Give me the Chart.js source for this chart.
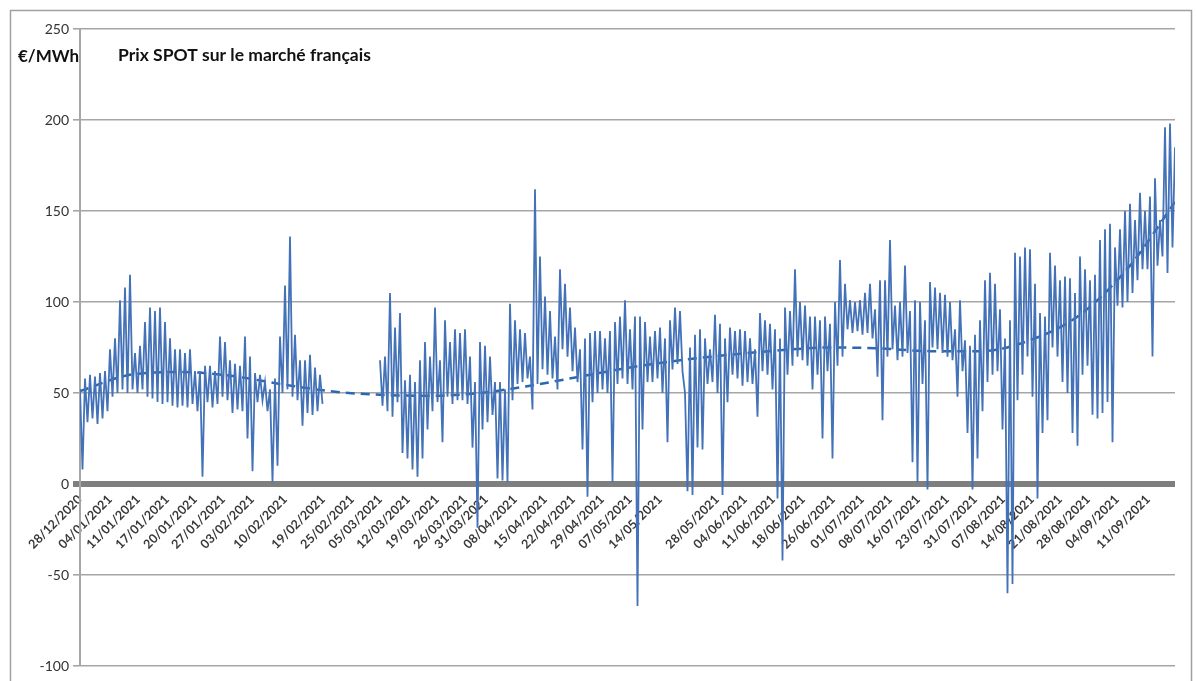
<!DOCTYPE html>
<html>
<head>
<meta charset="utf-8">
<script src="https://cdn.jsdelivr.net/npm/chart.js@4.4.1/dist/chart.umd.min.js"></script>
<style>
  body { margin: 0; background: #fff; }
  #wrap { position: relative; width: 1196px; height: 681px; }
</style>
</head>
<body>
<div id="wrap"><canvas id="spot"></canvas></div>
<script>
// Prix SPOT horaires: pour chaque pas, un haut et un bas
// null = pas de donnees (trou fin fevrier / debut mars)
var highs = [52,58,60,59,61,62,74,80,101,108,115,72,76,89,97,95,97,89,80,74,
  74,72,74,62,62,65,65,62,81,78,68,66,65,81,70,61,60,56,52,58,
  81,109,136,82,68,68,71,64,60,null,null,null,null,null,null,null,null,null,null,null,
  68,70,105,86,94,57,60,56,68,78,70,97,68,90,78,85,83,85,70,56,
  78,76,70,56,56,52,99,90,85,83,70,162,125,103,95,81,118,110,97,86,
  74,80,83,84,84,80,84,89,92,101,85,92,92,89,81,84,86,80,90,97,
  95,50,75,82,85,80,74,93,88,80,86,84,85,84,80,74,94,90,88,85,
  80,97,95,118,100,98,92,92,90,92,88,100,123,110,101,100,101,105,110,96,
  112,112,134,98,100,120,95,101,100,90,111,108,105,104,100,85,101,79,76,82,
  90,112,116,110,96,80,90,127,125,130,129,110,94,92,127,120,112,114,113,105,
  125,118,112,115,134,140,143,130,140,150,154,145,160,150,158,168,145,196,198,185];
var lows = [8,34,36,33,36,40,48,50,52,50,52,50,52,48,47,45,44,45,43,42,
  43,42,44,40,4,45,42,44,48,46,39,41,40,25,7,45,46,40,1,10,
  50,52,48,46,32,39,38,40,44,null,null,null,null,null,null,null,null,null,null,null,
  43,40,37,45,17,14,8,4,14,30,40,45,23,48,44,46,46,44,20,-24,
  30,34,38,3,2,1,46,55,56,58,41,55,63,60,58,52,74,70,62,56,
  19,-7,45,50,52,50,1,55,58,55,52,-67,30,56,56,58,50,23,63,66,
  62,-4,-6,20,19,55,56,50,-6,45,60,58,54,56,55,37,62,60,52,-8,
  -42,60,65,70,68,65,52,60,25,62,14,65,70,85,83,84,82,83,80,59,
  35,70,74,68,70,72,12,1,55,-3,75,74,72,70,68,48,62,28,-3,14,
  40,56,60,62,30,-60,-55,46,60,70,48,-8,28,35,75,70,56,50,28,21,
  60,65,38,36,39,45,23,98,97,100,105,112,118,118,70,120,125,116,130,141];

// courbe de tendance (pointillés), relevée tous les 10 pas
var trendSteps = [0,10,20,30,40,50,60,70,80,90,100,110,120,130,140,150,160,170,180,190,200,210,219];
var trendValues = [51,60,61.5,59.5,55,51,49,48.5,50,54,59,64,68,71,73.5,75,74.5,73,73,79,93,120,155];

// étiquettes de l'axe des dates et leur pas
var tickLabels = ["28/12/2020","04/01/2021","11/01/2021","17/01/2021","20/01/2021","27/01/2021",
  "03/02/2021","10/02/2021","19/02/2021","25/02/2021","05/03/2021","12/03/2021","19/03/2021",
  "26/03/2021","31/03/2021","08/04/2021","15/04/2021","22/04/2021","29/04/2021","07/05/2021",
  "14/05/2021","28/05/2021","04/06/2021","11/06/2021","18/06/2021","26/06/2021","01/07/2021",
  "08/07/2021","16/07/2021","23/07/2021","31/07/2021","07/08/2021","14/08/2021","21/08/2021",
  "28/08/2021","04/09/2021","11/09/2021"];
var tickSteps = [0,6,11.6,17.4,23,28.6,34.4,41,48.6,54.4,60,65.6,71.4,77,81.2,87,93,98.6,104.4,110,
  116,127.4,133,138.6,144.6,150.6,156.4,162,167.6,173.4,179,184.6,190.4,196,201.6,207.4,213.6];

// deux échantillons par pas : haut puis bas
var prices = [];
highs.forEach(function (h, i) {
  prices.push({ x: 2 * i, y: h });
  prices.push({ x: 2 * i + 1, y: lows[i] });
});
var trend = trendSteps.map(function (s, k) {
  return { x: 2 * s, y: trendValues[k] };
});

var FONT = "Lato, 'Open Sans', sans-serif";

var decor = {
  id: "decor",
  beforeDraw: function (chart) {
    var c = chart.ctx;
    c.save();
    c.strokeStyle = "#a0a0a0";
    c.lineWidth = 1.5;
    c.strokeRect(10.5, 10.5, 1181, 690);
    c.restore();
  },
  afterDraw: function (chart) {
    var c = chart.ctx;
    c.save();
    c.fillStyle = "#111";
    c.font = "bold 17px " + FONT;
    c.textBaseline = "middle";
    c.fillText("€/MWh", 18, 57);
    c.font = "bold 17.5px " + FONT;
    c.fillText("Prix SPOT sur le marché français", 118, 55);
    c.restore();
  }
};

new Chart(document.getElementById("spot"), {
  type: "line",
  data: {
    datasets: [
      {
        label: "Prix SPOT",
        data: prices,
        borderColor: "#4472b8",
        borderWidth: 1.8,
        pointRadius: 0,
        spanGaps: false,
        tension: 0
      },
      {
        label: "Tendance",
        data: trend,
        borderColor: "#2a68b0",
        borderWidth: 2.5,
        borderDash: [9, 6],
        pointRadius: 0,
        cubicInterpolationMode: "monotone"
      }
    ]
  },
  options: {
    responsive: true,
    maintainAspectRatio: false,
    animation: false,
    layout: { padding: { top: 29, bottom: 15, left: 0, right: 21 } },
    plugins: { legend: { display: false }, tooltip: { enabled: false } },
    scales: {
      x: {
        type: "linear",
        position: { y: 0 },
        min: 0,
        max: 2 * (highs.length - 1),
        grid: { display: false, drawTicks: false },
        border: { display: false },
        afterBuildTicks: function (scale) {
          scale.ticks = tickSteps.map(function (s) { return { value: 2 * s }; });
        },
        ticks: {
          autoSkip: false,
          maxRotation: 45,
          minRotation: 45,
          padding: 8,
          color: "#3a3a3a",
          font: { family: FONT, size: 12.5, weight: "bold" },
          callback: function (v, i) { return tickLabels[i]; }
        }
      },
      y: {
        min: -100,
        max: 250,
        afterFit: function (scale) { scale.width = 80; },
        ticks: {
          stepSize: 50,
          color: "#333",
          padding: 4,
          font: { family: FONT, size: 14 }
        },
        grid: {
          tickLength: 7,
          color: function (ctx) { return ctx.tick && ctx.tick.value === 0 ? "#7f7f7f" : "#a6a6a6"; },
          lineWidth: function (ctx) { return ctx.tick && ctx.tick.value === 0 ? 6 : 1.6; }
        },
        border: { color: "#a6a6a6", width: 2 }
      }
    }
  },
  plugins: [decor]
});
</script>
</body>
</html>
